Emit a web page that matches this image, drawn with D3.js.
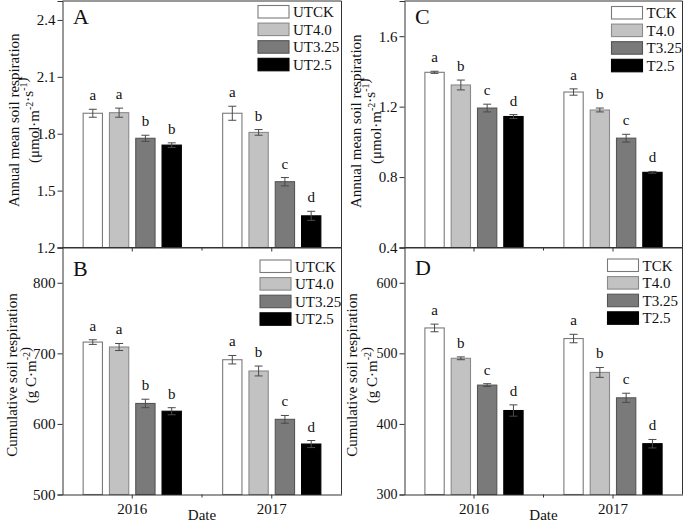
<!DOCTYPE html>
<html>
<head>
<meta charset="utf-8">
<script src="https://cdn.jsdelivr.net/npm/d3@7"></script>
<style>
  html, body { margin: 0; padding: 0; background: #ffffff; }
  svg { display: block; }
  svg text { font-family: "Liberation Serif", "Times New Roman", serif !important; fill: #111; }
</style>
</head>
<body>
<svg id="chart" width="685" height="524"></svg>
<script>
// ---------------- DATA ----------------
const years = ["2016", "2017"];
const seriesUT = ["UTCK", "UT4.0", "UT3.25", "UT2.5"];
const seriesT = ["TCK", "T4.0", "T3.25", "T2.5"];

// Panel A: annual mean soil respiration, untreated (per year: UTCK, UT4.0, UT3.25, UT2.5)
const annualUT = [[1.908, 1.911, 1.776, 1.740], [1.908, 1.807, 1.547, 1.367]];
const annualUTErr = [[0.021, 0.024, 0.016, 0.012], [0.037, 0.015, 0.022, 0.024]];
const annualUTLetters = [["a", "a", "b", "b"], ["a", "b", "c", "d"]];

// Panel B: cumulative soil respiration, untreated
const cumUT = [[716, 709, 629, 618], [691, 675, 606.5, 571.5]];
const cumUTErr = [[3.3, 5, 6, 5], [6, 7, 5.5, 5]];
const cumUTLetters = [["a", "a", "b", "b"], ["a", "b", "c", "d"]];

// Panel C: annual mean soil respiration, treated
const annualT = [[1.395, 1.323, 1.192, 1.144], [1.283, 1.181, 1.021, 0.827]];
const annualTErr = [[0.006, 0.028, 0.022, 0.011], [0.018, 0.011, 0.022, 0.005]];
const annualTLetters = [["a", "b", "c", "d"], ["a", "b", "c", "d"]];

// Panel D: cumulative soil respiration, treated
const cumT = [[536, 493, 455, 419], [521, 473, 437, 372]];
const cumTErr = [[5.4, 2, 2, 8], [6, 7, 6.5, 6]];
const cumTLetters = [["a", "b", "c", "d"], ["a", "b", "c", "d"]];

// Axis ticks
const ticksA = [1.2, 1.5, 1.8, 2.1, 2.4];
const ticksB = [500, 600, 700, 800];
const ticksC = [0.4, 0.8, 1.2, 1.6];
const ticksD = [300, 400, 500, 600];

const fills = ["#ffffff", "#c2c2c2", "#7a7a7a", "#000000"];
const strokes = ["#7a7a7a", "#8a8a8a", "#555555", "#000000"];

// ---------------- DRAW ----------------
const FONT = "'Liberation Serif', 'Times New Roman', serif";
const svg = d3.select("#chart");

function drawPanel(p) {
  const g = svg.append("g");
  const x = d3.scaleBand().domain(years).range([p.left, p.right]).paddingInner(0).paddingOuter(0);
  const bw = x.bandwidth();
  const groupW = 98.2;
  const inner = d3.scaleBand().domain(p.series)
    .range([(bw - groupW) / 2, (bw + groupW) / 2]).paddingInner(0.266).paddingOuter(0);
  const y = d3.scaleLinear().domain(p.domain).range([p.bottom, p.top]);

  // Bars
  years.forEach((yr, yi) => {
    p.series.forEach((s, si) => {
      const v = p.values[yi][si];
      const e = p.errs[yi][si];
      const bx = x(yr) + inner(s);
      const cx = bx + inner.bandwidth() / 2;
      g.append("rect")
        .attr("x", bx).attr("y", y(v))
        .attr("width", inner.bandwidth()).attr("height", y(p.domain[0]) - y(v))
        .attr("fill", fills[si]).attr("stroke", strokes[si]).attr("stroke-width", 1.1);
      // error bar
      const eg = g.append("g").attr("stroke", "#4a4a4a").attr("stroke-width", 1);
      eg.append("line").attr("x1", cx).attr("x2", cx).attr("y1", y(v + e)).attr("y2", y(v - e));
      eg.append("line").attr("x1", cx - 4).attr("x2", cx + 4).attr("y1", y(v + e)).attr("y2", y(v + e));
      eg.append("line").attr("x1", cx - 4).attr("x2", cx + 4).attr("y1", y(v - e)).attr("y2", y(v - e));
      // significance letter
      g.append("text")
        .attr("x", cx).attr("y", y(v + e) - 9)
        .attr("text-anchor", "middle").attr("font-size", 15)
        .style("font-family", FONT)
        .text(p.letters[yi][si]);
    });
  });

  // Frame (top and right)
  g.append("path")
    .attr("d", `M${p.left},${p.top}H${p.right}V${p.bottom}`)
    .attr("fill", "none").attr("stroke", "#333").attr("stroke-width", 1);

  // Y axis
  const ya = g.append("g").attr("transform", `translate(${p.left},0)`)
    .call(d3.axisLeft(y).tickValues(p.ticks).tickSize(5).tickPadding(2).tickFormat(p.fmt));
  ya.attr("font-family", FONT);
  ya.select(".domain").attr("stroke", "#333");
  ya.selectAll(".tick line").attr("stroke", "#333");
  ya.selectAll(".tick text").attr("font-size", p.tickFont).style("font-family", FONT).attr("fill", "#111");

  // X axis
  const xa = g.append("g").attr("transform", `translate(0,${p.bottom})`)
    .call(d3.axisBottom(x).tickSize(4).tickPadding(5).tickSizeOuter(0));
  xa.attr("font-family", FONT);
  xa.select(".domain").attr("stroke", "#333");
  xa.selectAll(".tick line").attr("stroke", "#333");
  if (p.showX) {
    xa.selectAll(".tick text").attr("font-size", 15).style("font-family", FONT).attr("fill", "#111");
  } else {
    xa.selectAll(".tick text").remove();
  }
  // minor tick at the band boundary
  g.append("line")
    .attr("x1", x(years[1])).attr("x2", x(years[1]))
    .attr("y1", p.bottom).attr("y2", p.bottom + 3)
    .attr("stroke", "#333");

  if (p.showX) {
    g.append("text")
      .attr("x", (p.left + p.right) / 2).attr("y", 520)
      .attr("text-anchor", "middle").attr("font-size", 15)
      .style("font-family", FONT)
      .text("Date");
  }

  // Panel letter
  g.append("text")
    .attr("x", p.left + 10.5).attr("y", p.top + p.letterDy)
    .attr("font-size", 22)
    .style("font-family", FONT)
    .text(p.label);

  // Legend
  p.series.forEach((s, si) => {
    const ly = p.top + p.legDy + si * 17.6;
    g.append("rect")
      .attr("x", p.right - p.legDx).attr("y", ly)
      .attr("width", 31).attr("height", 12.5)
      .attr("fill", fills[si]).attr("stroke", strokes[si]).attr("stroke-width", 1.1);
    g.append("text")
      .attr("x", p.right - p.legDx + 35).attr("y", ly + 11.5)
      .attr("font-size", 15)
      .style("font-family", FONT)
      .text(s);
  });

  // Y title
  const cy = (p.top + p.bottom) / 2 + p.titleDy;
  g.append("text")
    .attr("transform", `translate(${p.titleX1},${cy}) rotate(-90)`)
    .attr("text-anchor", "middle").attr("font-size", 15)
    .style("font-family", FONT)
    .text(p.title1);
  const t2 = g.append("text")
    .attr("transform", `translate(${p.titleX2},${cy}) rotate(-90)`)
    .attr("text-anchor", "middle").attr("font-size", 15)
    .style("font-family", FONT);
  p.title2.forEach(part => {
    if (part.sup) {
      t2.append("tspan").attr("dy", -6).attr("font-size", 10).text(part.t);
      t2.append("tspan").attr("dy", 6).attr("font-size", 15).text("");
    } else {
      t2.append("tspan").text(part.t);
    }
  });
}

const unitAnnual = [{ t: "(μmol·m" }, { t: "-2", sup: true }, { t: "·s" }, { t: "-1", sup: true }, { t: ")" }];
const unitCum = [{ t: "(g C·m" }, { t: "-2", sup: true }, { t: ")" }];

drawPanel({
  label: "A", left: 62.5, right: 341.5, top: 1, bottom: 247.5,
  domain: [1.2, 2.5], ticks: ticksA, fmt: d3.format(".1f"), tickFont: 15,
  series: seriesUT, values: annualUT, errs: annualUTErr, letters: annualUTLetters,
  showX: false, letterDy: 23, legDx: 83.5, legDy: 4.5,
  title1: "Annual mean soil respiration", title2: unitAnnual,
  titleX1: 19, titleX2: 39, titleDy: -4
});
drawPanel({
  label: "B", left: 62.5, right: 341.5, top: 247.5, bottom: 494.5,
  domain: [500, 850], ticks: ticksB, fmt: d3.format("d"), tickFont: 15,
  series: seriesUT, values: cumUT, errs: cumUTErr, letters: cumUTLetters,
  showX: true, letterDy: 28.5, legDx: 81.5, legDy: 12.5,
  title1: "Cumulative soil respiration", title2: unitCum,
  titleX1: 17, titleX2: 36, titleDy: 4
});
drawPanel({
  label: "C", left: 404.5, right: 682.5, top: 1, bottom: 247.5,
  domain: [0.4, 1.8], ticks: ticksC, fmt: d3.format(".1f"), tickFont: 15,
  series: seriesT, values: annualT, errs: annualTErr, letters: annualTLetters,
  showX: false, letterDy: 23, legDx: 71, legDy: 5.5,
  title1: "Annual mean soil respiration", title2: unitAnnual,
  titleX1: 361, titleX2: 381, titleDy: -3
});
drawPanel({
  label: "D", left: 404.5, right: 682.5, top: 247.5, bottom: 494.5,
  domain: [300, 650], ticks: ticksD, fmt: d3.format("d"), tickFont: 14,
  series: seriesT, values: cumT, errs: cumTErr, letters: cumTLetters,
  showX: true, letterDy: 27.5, legDx: 75, legDy: 11.5,
  title1: "Cumulative soil respiration", title2: unitCum,
  titleX1: 357, titleX2: 377, titleDy: 4
});
</script>
</body>
</html>
